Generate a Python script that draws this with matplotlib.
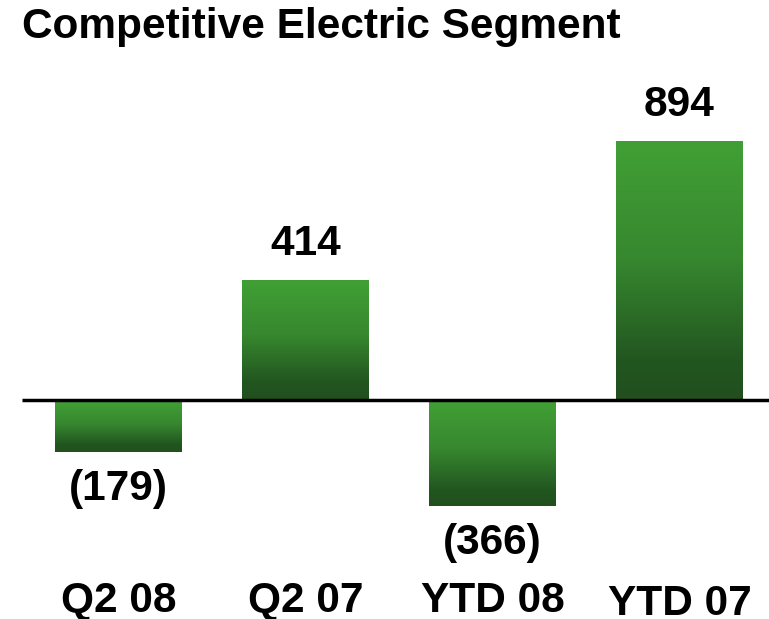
import numpy as np
import matplotlib
matplotlib.use("Agg")
import matplotlib.pyplot as plt
from matplotlib.colors import LinearSegmentedColormap

# data
categories = ["Q2 08", "Q2 07", "YTD 08", "YTD 07"]
values = [-179, 414, -366, 894]
labels = ["(179)", "414", "(366)", "894"]

plt.rcParams['font.family'] = ['Liberation Sans', 'DejaVu Sans']

fig = plt.figure(figsize=(7.69, 6.19), dpi=100)
ax = fig.add_axes([0, 0, 1, 1])
ax.set_axis_off()

# pixel mapping: 187 px per category, 0.2886 px per unit
px_x = 187.0
px_y = 0.2886
ax.set_xlim(-118.5 / px_x, (769 - 118.5) / px_x)
ax.set_ylim(-(619 - 400) / px_y, 400 / px_y)

# gradient: light green on top, dark green at bottom
cmap = LinearSegmentedColormap.from_list(
    "grn", [(0.0, "#214f1e"), (0.15, "#225620"), (0.55, "#37882f"), (1.0, "#41a035")])
grad = np.linspace(0, 1, 256).reshape(-1, 1)

width = 127 / px_x
x = np.arange(len(categories))
for xi, v in zip(x, values):
    lo, hi = min(0, v), max(0, v)
    ax.imshow(grad, cmap=cmap, aspect="auto", origin="lower",
              extent=(xi - width / 2, xi + width / 2, lo, hi), zorder=2)

ax.plot([(22 - 118.5) / px_x, 3.6], [0, 0], color="black", lw=2.5, zorder=3,
        solid_capstyle="butt")

fs = 30.5
off = 37 / px_y
for xi, v, lab in zip(x, values, labels):
    y = v + off if v > 0 else v - off
    ax.text(xi, y, lab, ha="center", va="center", fontsize=fs,
            fontweight="bold", zorder=4)

# category labels sit along the bottom; the last one is a bit lower
for xi, c in zip(x, categories):
    base = 615 if c == "YTD 07" else 612
    ax.text(xi, -(base - 400) / px_y, c, ha="center", va="baseline",
            fontsize=fs, fontweight="bold")

fig.text(22 / 769, 1 - 27 / 619, "Competitive Electric Segment", ha="left",
         va="center", fontsize=fs, fontweight="bold")

fig.savefig("out.png", dpi=100)
